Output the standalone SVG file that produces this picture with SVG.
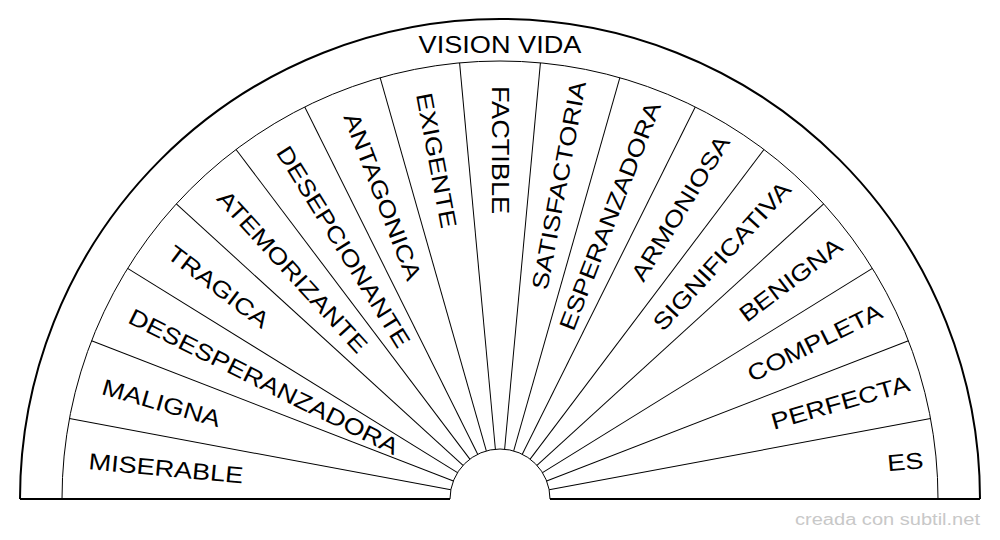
<svg xmlns="http://www.w3.org/2000/svg" width="1000" height="540" viewBox="0 0 1000 540">
<style>
.l{stroke:#000;stroke-width:1;fill:none}
.o{stroke:#000;stroke-width:2;fill:none}
.t{font-family:"Liberation Sans",Arial,sans-serif;font-size:23px;fill:#000;dominant-baseline:central}
.s{text-anchor:start}.e{text-anchor:end}
</style>
<rect width="1000" height="540" fill="#fff"/>
<g id="frame">
<path class="o" d="M20 499 A480 480 0 0 1 980 499"/>
<path class="l" d="M62 499 A438 438 0 0 1 938 499"/>
<path class="l" d="M450 499 A50 50 0 0 1 550 499"/>
<line class="o" x1="20" y1="499" x2="450" y2="499"/>
<line class="o" x1="550" y1="499" x2="980" y2="499"/>
</g>
<g id="connectors">
<line class="l" x1="450" y1="499" x2="62" y2="499" transform="rotate(10.588 500 499)"/>
<line class="l" x1="450" y1="499" x2="62" y2="499" transform="rotate(21.176 500 499)"/>
<line class="l" x1="450" y1="499" x2="62" y2="499" transform="rotate(31.765 500 499)"/>
<line class="l" x1="450" y1="499" x2="62" y2="499" transform="rotate(42.353 500 499)"/>
<line class="l" x1="450" y1="499" x2="62" y2="499" transform="rotate(52.941 500 499)"/>
<line class="l" x1="450" y1="499" x2="62" y2="499" transform="rotate(63.529 500 499)"/>
<line class="l" x1="450" y1="499" x2="62" y2="499" transform="rotate(74.118 500 499)"/>
<line class="l" x1="450" y1="499" x2="62" y2="499" transform="rotate(84.706 500 499)"/>
<line class="l" x1="450" y1="499" x2="62" y2="499" transform="rotate(95.294 500 499)"/>
<line class="l" x1="450" y1="499" x2="62" y2="499" transform="rotate(105.882 500 499)"/>
<line class="l" x1="450" y1="499" x2="62" y2="499" transform="rotate(116.471 500 499)"/>
<line class="l" x1="450" y1="499" x2="62" y2="499" transform="rotate(127.059 500 499)"/>
<line class="l" x1="450" y1="499" x2="62" y2="499" transform="rotate(137.647 500 499)"/>
<line class="l" x1="450" y1="499" x2="62" y2="499" transform="rotate(148.235 500 499)"/>
<line class="l" x1="450" y1="499" x2="62" y2="499" transform="rotate(158.824 500 499)"/>
<line class="l" x1="450" y1="499" x2="62" y2="499" transform="rotate(169.412 500 499)"/>
</g>
<g id="n0"><text class="t s" transform="rotate(5.294 500 499) translate(87 499) scale(1.18 1)">MISERABLE</text></g>
<g id="n1"><text class="t s" transform="rotate(15.882 500 499) translate(87 499) scale(1.18 1)">MALIGNA</text></g>
<g id="n2"><text class="t s" transform="rotate(26.471 500 499) translate(87 499) scale(1.18 1)">DESESPERANZADORA</text></g>
<g id="n3"><text class="t s" transform="rotate(37.059 500 499) translate(87 499) scale(1.18 1)">TRAGICA</text></g>
<g id="n4"><text class="t s" transform="rotate(47.647 500 499) translate(87 499) scale(1.18 1)">ATEMORIZANTE</text></g>
<g id="n5"><text class="t s" transform="rotate(58.235 500 499) translate(87 499) scale(1.18 1)">DESEPCIONANTE</text></g>
<g id="n6"><text class="t s" transform="rotate(68.824 500 499) translate(87 499) scale(1.18 1)">ANTAGONICA</text></g>
<g id="n7"><text class="t s" transform="rotate(79.412 500 499) translate(87 499) scale(1.18 1)">EXIGENTE</text></g>
<g id="n8"><text class="t s" transform="rotate(90 500 499) translate(87 499) scale(1.18 1)">FACTIBLE</text></g>
<g id="n9"><text class="t e" transform="rotate(-79.412 500 499) translate(925 499) scale(1.18 1)">SATISFACTORIA</text></g>
<g id="n10"><text class="t e" transform="rotate(-68.824 500 499) translate(925 499) scale(1.18 1)">ESPERANZADORA</text></g>
<g id="n11"><text class="t e" transform="rotate(-58.235 500 499) translate(925 499) scale(1.18 1)">ARMONIOSA</text></g>
<g id="n12"><text class="t e" transform="rotate(-47.647 500 499) translate(925 499) scale(1.18 1)">SIGNIFICATIVA</text></g>
<g id="n13"><text class="t e" transform="rotate(-37.059 500 499) translate(925 499) scale(1.18 1)">BENIGNA</text></g>
<g id="n14"><text class="t e" transform="rotate(-26.471 500 499) translate(925 499) scale(1.18 1)">COMPLETA</text></g>
<g id="n15"><text class="t e" transform="rotate(-15.882 500 499) translate(925 499) scale(1.18 1)">PERFECTA</text></g>
<g id="n16"><text class="t e" transform="rotate(-5.294 500 499) translate(925 499) scale(1.18 1)">ES</text></g>
<g id="title"><text class="t" text-anchor="middle" transform="translate(500 45) scale(1.18 1)">VISION VIDA</text></g>
<text x="980" y="525" text-anchor="end" font-family="'Liberation Sans',Arial,sans-serif" font-size="16" textLength="185" lengthAdjust="spacingAndGlyphs" fill="#c8c8c8">creada con subtil.net</text>
</svg>
